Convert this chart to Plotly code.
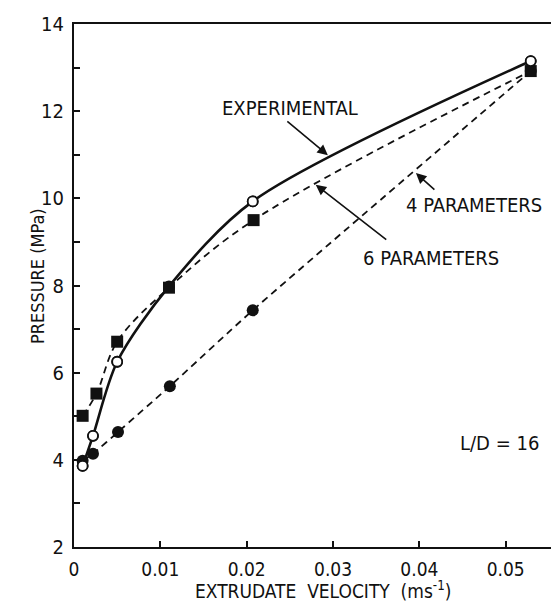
import plotly.graph_objects as go

# Experimental (open circles)
exp_x = [0.001, 0.0022, 0.005, 0.011, 0.0207, 0.0529]
exp_y = [3.86, 4.55, 6.25, 7.98, 9.93, 13.15]

# 6 parameters (filled squares)
six_x = [0.001, 0.0026, 0.005, 0.011, 0.0208, 0.0529]
six_y = [5.01, 5.52, 6.71, 7.95, 9.50, 12.92]

# 4 parameters (filled circles)
four_x = [0.001, 0.0022, 0.0051, 0.0111, 0.0207, 0.0529]
four_y = [3.98, 4.14, 4.64, 5.69, 7.43, 12.92]

x_ticks = [0, 0.01, 0.02, 0.03, 0.04, 0.05]
x_tick_text = ["0", "0.01", "0.02", "0.03", "0.04", "0.05"]
y_ticks = [2, 4, 6, 8, 10, 12, 14]

FONT = "DejaVu Sans Condensed, Liberation Sans Narrow, DejaVu Sans, sans-serif"
BLACK = "#111111"

fig = go.Figure()

fig.add_trace(go.Scatter(
    x=four_x, y=four_y, mode="lines+markers", name="4 PARAMETERS",
    line=dict(color=BLACK, width=1.8, dash="7px,5px", shape="spline", smoothing=0.6),
    marker=dict(symbol="circle", size=12, color=BLACK),
))
fig.add_trace(go.Scatter(
    x=exp_x, y=exp_y, mode="lines+markers", name="EXPERIMENTAL",
    line=dict(color=BLACK, width=2.6, shape="spline", smoothing=0.85),
    marker=dict(symbol="circle-open", size=10, color=BLACK, line=dict(width=1.8, color=BLACK)),
))
fig.add_trace(go.Scatter(
    x=six_x, y=six_y, mode="lines+markers", name="6 PARAMETERS",
    line=dict(color=BLACK, width=1.8, dash="7px,5px", shape="spline", smoothing=1.0),
    marker=dict(symbol="square", size=12, color=BLACK),
))

# white fill for open circles drawn on top
fig.add_trace(go.Scatter(
    x=[exp_x[i] for i in (0, 1, 2, 4, 5)], y=[exp_y[i] for i in (0, 1, 2, 4, 5)],
    mode="markers", showlegend=False,
    marker=dict(symbol="circle", size=10, color="white", line=dict(width=1.8, color=BLACK)),
))

ann_font = dict(family=FONT, size=20, color=BLACK)
arrow = dict(text="", showarrow=True, arrowhead=2, arrowsize=1.3, arrowwidth=1.6,
             arrowcolor=BLACK, standoff=0)
annotations = [
    dict(x=0.025, y=12.07, text="EXPERIMENTAL", showarrow=False, font=ann_font),
    dict(x=0.0463, y=9.85, text="4 PARAMETERS", showarrow=False, font=ann_font),
    dict(x=0.0414, y=8.63, text="6 PARAMETERS", showarrow=False, font=ann_font),
    dict(x=0.0493, y=4.39, text="L/D = 16", showarrow=False, font=ann_font),
    dict(x=0.0294, y=10.99, ax=-42, ay=-35, **arrow),
    dict(x=0.0396, y=10.58, ax=20, ay=18, **arrow),
    dict(x=0.0280, y=10.31, ax=72, ay=56, **arrow),
    # axis titles
    dict(xref="paper", yref="paper", x=0.505, y=-0.082, xanchor="center", yanchor="middle",
         text="EXTRUDATE  VELOCITY  (ms<sup>-1</sup>)", showarrow=False,
         font=dict(family=FONT, size=19, color=BLACK)),
    dict(xref="paper", yref="paper", x=-0.075, y=0.518, xanchor="center", yanchor="middle",
         text="PRESSURE (MPa)", textangle=-90, showarrow=False,
         font=dict(family=FONT, size=18, color=BLACK)),
]

fig.update_layout(
    width=559, height=602,
    margin=dict(l=66, r=0, t=16, b=63),
    paper_bgcolor="white", plot_bgcolor="white",
    showlegend=False,
    font=dict(family=FONT, color=BLACK),
    annotations=annotations,
)

fig.update_xaxes(
    range=[0, 0.0571], tickvals=x_ticks, ticktext=x_tick_text,
    showgrid=False, zeroline=False, automargin=False,
    showline=True, linecolor=BLACK, linewidth=2, mirror=True,
    ticks="inside", ticklen=6, tickwidth=1.5, tickcolor=BLACK,
    tickfont=dict(family=FONT, size=19, color=BLACK),
    ticklabelstandoff=4,
)
fig.update_yaxes(
    range=[2, 14], tickvals=y_ticks,
    showgrid=False, zeroline=False, automargin=False,
    showline=True, linecolor=BLACK, linewidth=2, mirror=False,
    ticks="inside", ticklen=6, tickwidth=1.5, tickcolor=BLACK,
    minor=dict(dtick=1, ticks="inside", ticklen=6, tickwidth=1.5, tickcolor=BLACK, showgrid=False),
    tickfont=dict(family=FONT, size=20, color=BLACK),
    ticklabelstandoff=4,
)

fig.write_html("out.html")
